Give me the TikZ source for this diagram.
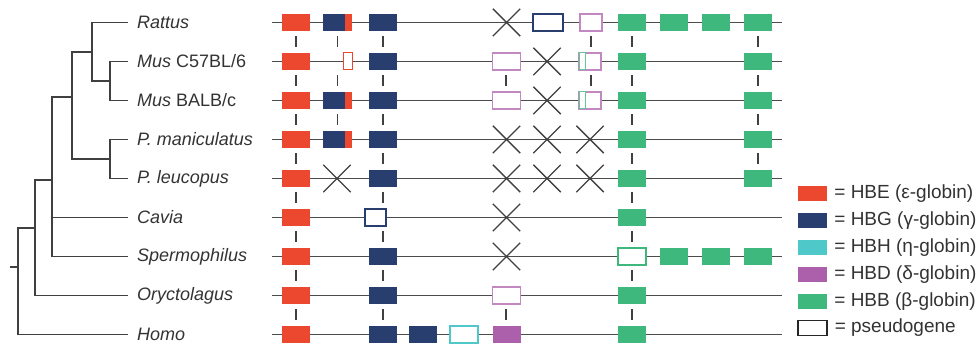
\documentclass[tikz,border=0pt]{standalone}
\usepackage{fontspec}
\setmainfont{Liberation Sans}
\usetikzlibrary{shapes.misc, positioning}

\definecolor{hbeRed}{RGB}{236,72,48}
\definecolor{hbgBlue}{RGB}{40,62,110}
\definecolor{hbhCyan}{RGB}{78,200,200}
\definecolor{hbdPurple}{RGB}{172,96,172}
\definecolor{hbbGreen}{RGB}{62,184,124}

\tikzset{
  gene/.style={minimum width=28pt, minimum height=17pt, inner sep=0, outer sep=0},
  hbe/.style={gene, fill=hbeRed},
  hbg/.style={gene, fill=hbgBlue},
  hbd/.style={gene, fill=hbdPurple},
  hbb/.style={gene, fill=hbbGreen},
  pseudo/.style={gene, fill=white, draw=#1, line width=1.3pt},
  lost/.style={cross out, draw=black!75, line width=1.4pt, minimum size=26pt, inner sep=0},
  chrom/.style={draw=black!70, line width=1.6pt},
  branch/.style={draw=black!75, line width=1.6pt},
  tickmark/.style={draw=black!75, line width=1.6pt},
  taxon/.style={anchor=west, inner sep=0, text=black!80,
                font=\fontsize{18}{20}\selectfont\itshape},
  keybox/.style={minimum width=29pt, minimum height=15pt, inner sep=0},
  keytext/.style={inner sep=0, text=black!80, font=\fontsize{19}{21}\selectfont}
}

\begin{document}
\begin{tikzpicture}[x=1pt, y=-1pt]
  \useasboundingbox (0,0) rectangle (979,344);
  \def\ry#1{(#1*39-16.5)}

  %% Tree
  \draw[branch] (92,22.5) -- (128,22.5);
  \draw[branch] (128,61.5) -- (110,61.5) -- (110,100.5) -- (128,100.5);
  \draw[branch] (110,81) -- (92,81) -- (92,22.5);
  \draw[branch] (92,52) -- (72,52) -- (72,159) -- (110,159);
  \draw[branch] (128,139.5) -- (110,139.5) -- (110,178.5) -- (128,178.5);
  \draw[branch] (72,97) -- (52,97) -- (52,256.5) -- (128,256.5);
  \draw[branch] (52,217.5) -- (128,217.5);
  \draw[branch] (52,180) -- (35,180) -- (35,295.5) -- (128,295.5);
  \draw[branch] (35,228) -- (18,228) -- (18,334.5) -- (128,334.5);
  \draw[branch] (10,267) -- (18,267);

  %% Taxon labels
  \node[taxon] (rattus) at (137,22.5) {Rattus};
  \node[taxon] (musc)   at (137,61.5) {Mus \upshape C57BL/6};
  \node[taxon] (musb)   at (137,100.5) {Mus \upshape BALB/c};
  \node[taxon] (pman)   at (137,139.5) {P. maniculatus};
  \node[taxon] (pleu)   at (137,178.5) {P. leucopus};
  \node[taxon] (cavia)  at (137,217.5) {Cavia};
  \node[taxon] (sperm)  at (137,256.5) {Spermophilus};
  \node[taxon] (oryct)  at (137,295.5) {Oryctolagus};
  \node[taxon] (homo)   at (137,334.5) {Homo};

  %% Chromosome lines
  \foreach \i in {1,...,9}{
    \coordinate (L\i) at (272,{\ry{\i}});
    \coordinate (R\i) at (782,{\ry{\i}});
    \draw[chrom] (L\i) -- (R\i);
  }

  %% Orthology ticks
  \foreach \i in {1,...,8}{
    \draw[tickmark] (296,{\i*39-2.5}) -- (296,{\i*39+8.5});
    \draw[tickmark] (383,{\i*39-2.5}) -- (383,{\i*39+8.5});
    \draw[tickmark] (632,{\i*39-2.5}) -- (632,{\i*39+8.5});
  }
  \foreach \i in {1,2,3}{
    \draw[tickmark] (337.5,{\i*39-2.5}) -- (337.5,{\i*39+8.5});
  }
  \foreach \i in {1,...,4}{
    \draw[tickmark] (758,{\i*39-2.5}) -- (758,{\i*39+8.5});
  }
  \foreach \i in {2,8}{
    \draw[tickmark] (506,{\i*39-2.5}) -- (506,{\i*39+8.5});
  }
  \foreach \i in {1,2}{
    \draw[tickmark] (591,{\i*39-2.5}) -- (591,{\i*39+8.5});
  }

  %% HBE
  \foreach \i in {1,...,9}{
    \node[hbe] (e\i) at (296,{\ry{\i}}) {};
  }
  %% HBG (5' copy, hybrid)
  \foreach \i in {1,3,4}{
    \node[hbg, minimum width=22pt] (ga\i) at (334,{\ry{\i}}) {};
    \node[hbe, minimum width=7pt] (gb\i) at (348.5,{\ry{\i}}) {};
  }
  \node[pseudo=hbeRed, minimum width=9pt, line width=1pt] (ga2) at (347.5,{\ry{2}}) {};
  \node[lost] (ga5) at (337,{\ry{5}}) {};
  %% HBG (3' copy)
  \foreach \i in {1,2,3,4,5,7,8,9}{
    \node[hbg] (g\i) at (382.5,{\ry{\i}}) {};
  }
  \node[pseudo=hbgBlue, minimum width=21pt] (g6) at (375.5,{\ry{6}}) {};
  \node[hbg] (gh) at (422.5,{\ry{9}}) {};
  \node[pseudo=hbhCyan] (h9) at (464,{\ry{9}}) {};
  %% HBD
  \foreach \i in {1,4,5,6,7}{
    \node[lost] (d\i) at (506.5,{\ry{\i}}) {};
  }
  \foreach \i in {2,3,8}{
    \node[pseudo=hbdPurple!75] (d\i) at (506.5,{\ry{\i}}) {};
  }
  \node[hbd] (d9) at (506.5,{\ry{9}}) {};
  %% second and third pseudogene sites
  \node[pseudo=hbgBlue, minimum width=30pt] (s1) at (548,{\ry{1}}) {};
  \foreach \i in {2,...,5}{
    \node[lost] (s\i) at (547,{\ry{\i}}) {};
  }
  \node[pseudo=hbdPurple!75, minimum width=22pt] (t1) at (591,{\ry{1}}) {};
  \foreach \i in {2,3}{
    \node[pseudo=hbdPurple!75, minimum width=22pt] (t\i) at (590,{\ry{\i}}) {};
    \node[pseudo=hbbGreen!80, minimum width=6pt, line width=1pt] (u\i) at (582,{\ry{\i}}) {};
  }
  \foreach \i in {4,5}{
    \node[lost] (t\i) at (590,{\ry{\i}}) {};
  }
  %% HBB
  \foreach \i in {1,2,3,4,5,6,8,9}{
    \node[hbb] (b\i) at (632,{\ry{\i}}) {};
  }
  \node[pseudo=hbbGreen] (b7) at (632,{\ry{7}}) {};
  \foreach \i in {1,7}{
    \node[hbb] (bb\i) at (674,{\ry{\i}}) {};
    \node[hbb] (bc\i) at (716,{\ry{\i}}) {};
  }
  \foreach \i in {1,2,3,4,5,7}{
    \node[hbb] (bd\i) at (757.5,{\ry{\i}}) {};
  }

  %% Legend
  \node[keybox, fill=hbeRed]    (kE) at (812.5,194) {};
  \node[keybox, fill=hbgBlue]   (kG) at (812.5,221) {};
  \node[keybox, fill=hbhCyan]   (kH) at (812.5,248) {};
  \node[keybox, fill=hbdPurple] (kD) at (812.5,275) {};
  \node[keybox, fill=hbbGreen]  (kB) at (812.5,302) {};
  \node[keybox, draw=black!85, line width=1.2pt, fill=white] (kP) at (812.5,328) {};
  \node[keytext, right=7pt of kE] (tE) {= HBE (ε-globin)};
  \node[keytext, right=7pt of kG] (tG) {= HBG (γ-globin)};
  \node[keytext, right=7pt of kH] (tH) {= HBH (η-globin)};
  \node[keytext, right=7pt of kD] (tD) {= HBD (δ-globin)};
  \node[keytext, right=7pt of kB] (tB) {= HBB (β-globin)};
  \node[keytext, right=7pt of kP] (tP) {= pseudogene};
\end{tikzpicture}
\end{document}
